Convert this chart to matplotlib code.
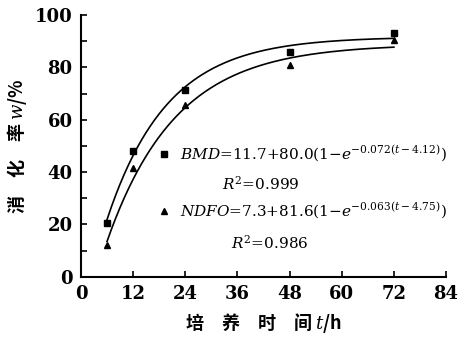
import matplotlib.pyplot as plt
import numpy as np

plt.rcParams['mathtext.fontset'] = 'custom'
plt.rcParams['mathtext.rm'] = 'DejaVu Serif'
plt.rcParams['mathtext.it'] = 'DejaVu Serif:italic'

# measured points
t_obs = [6, 12, 24, 48, 72]
bmd = [20.5, 48, 71.5, 86, 93]
ndfo = [12, 41.5, 65.5, 81, 90.5]

# fitted model parameters (a + b(1-exp(-c(t-L))))
bmd_fit = (11.7, 80.0, 0.072, 4.12)
ndfo_fit = (7.3, 81.6, 0.063, 4.75)

xticks = [0, 12, 24, 36, 48, 60, 72, 84]
yticks = [0, 20, 40, 60, 80, 100]


def model(t, a, b, c, lag):
    return a + b * (1 - np.exp(-c * (t - lag)))


fig = plt.figure(figsize=(4.68, 3.42), dpi=100)
ax = fig.add_axes([0.173, 0.191, 0.78, 0.765])

tt = np.linspace(6, 72, 200)
ax.plot(tt, model(tt, *bmd_fit), color='black', lw=1.2)
ax.plot(tt, model(tt, *ndfo_fit), color='black', lw=1.2)
h1, = ax.plot(t_obs, bmd, 's', color='black', ms=5, ls='none')
h2, = ax.plot(t_obs, ndfo, '^', color='black', ms=5, ls='none')

ax.set_xlim(0, 84)
ax.set_ylim(0, 100)
ax.set_xticks(xticks)
ax.set_yticks(yticks)
ax.set_yticks(np.arange(10, 100, 20), minor=True)
ax.tick_params(direction='in', length=4, width=1.2, labelsize=13, pad=6)
ax.tick_params(which='minor', direction='in', length=4, width=1.2)
for lab in ax.get_xticklabels() + ax.get_yticklabels():
    lab.set_family('DejaVu Serif')
    lab.set_weight('bold')
ax.spines['top'].set_visible(False)
ax.spines['right'].set_visible(False)
ax.spines['left'].set_linewidth(1.5)
ax.spines['bottom'].set_linewidth(1.5)

cjk = ['Noto Sans CJK SC', 'DejaVu Serif']
ax.set_ylabel('消\u3000化\u3000率 $w$/%', family=cjk, fontsize=13, weight='bold', labelpad=4)
ax.set_xlabel('培\u3000养\u3000时\u3000间 $t$/h', family=cjk, fontsize=13, weight='bold', labelpad=6)

leg = ax.legend([h1, h2],
                ['$BMD$=11.7+80.0(1−$e^{-0.072(t-4.12)}$)',
                 '$NDFO$=7.3+81.6(1−$e^{-0.063(t-4.75)}$)'],
                loc='upper left', bbox_to_anchor=(0.195, 0.53),
                frameon=False, handlelength=0.8, handletextpad=0.6,
                labelspacing=2.4, borderaxespad=0,
                prop={'family': 'DejaVu Serif', 'size': 11})
ax.text(0.385, 0.355, '$R^2$=0.999', transform=ax.transAxes,
        fontsize=11, family='DejaVu Serif', va='center')
ax.text(0.41, 0.13, '$R^2$=0.986', transform=ax.transAxes,
        fontsize=11, family='DejaVu Serif', va='center')

fig.savefig('out.png', dpi=100)
